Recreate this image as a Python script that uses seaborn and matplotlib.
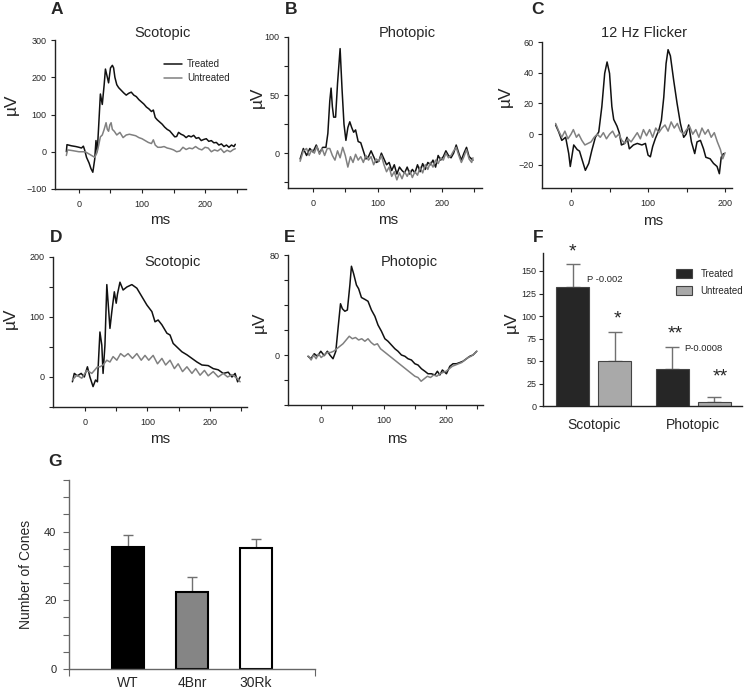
import numpy as np
import pandas as pd
import matplotlib
matplotlib.use('Agg')
import matplotlib.pyplot as plt
import seaborn as sns
from matplotlib.patches import Patch
from matplotlib.ticker import MultipleLocator

W, H = 745, 690

# ---- traces (ms, uV) ----
a_t_ms = [-20, -19, -12, -5, 0, 4, 7, 9, 12, 16, 19, 22, 25, 27, 29, 31, 34, 37, 40, 42, 45, 47, 50, 53, 55,
          57, 60, 63, 67, 71, 75, 79, 83, 87, 91, 95, 99, 103, 107, 111, 115, 118, 121, 124, 128, 132, 136,
          140, 144, 148, 152, 155, 158, 162, 166, 170, 174, 178, 182, 186, 190, 194, 198, 202, 206, 210, 214,
          218, 222, 226, 230, 234, 238, 242, 246, 248]
a_t_uv = [0, 19, 16, 14, 12, 10, 15, 5, -15, -30, -45, -55, -20, 30, 0, 60, 155, 127, 180, 222, 200, 185, 225,
          232, 225, 200, 180, 172, 165, 158, 152, 157, 160, 152, 148, 140, 134, 128, 120, 115, 108, 112, 92, 86,
          80, 74, 66, 60, 56, 48, 40, 41, 52, 47, 44, 38, 43, 40, 44, 36, 38, 30, 33, 35, 28, 30, 24, 25, 18, 21,
          14, 18, 12, 18, 14, 20]
a_u_ms = [-20, -18, -10, 0, 10, 15, 20, 25, 28, 31, 34, 37, 40, 43, 45, 47, 49, 51, 53, 56, 60, 65, 70, 75, 80,
          85, 90, 95, 100, 105, 110, 115, 118, 121, 125, 130, 135, 140, 145, 150, 155, 160, 165, 170, 175, 180,
          185, 190, 195, 200, 205, 210, 215, 220, 225, 230, 235, 240, 245, 248]
a_u_uv = [-10, 5, 3, 0, 0, -5, -10, -15, -5, 15, 40, 45, 60, 78, 60, 55, 72, 78, 60, 55, 45, 52, 38, 45, 47, 45,
          43, 38, 35, 30, 25, 22, 32, 18, 12, 12, 14, 10, 8, 5, 0, 2, 12, 6, 10, 8, 14, 8, 5, 12, 10, 0, 5, 2, 8,
          -2, 4, 0, 6, 8]

b_t_ms = [-20, -15, -10, -5, 0, 5, 10, 15, 20, 23, 26, 28, 30, 32, 35, 38, 42, 45, 48, 51, 54, 57, 60, 63, 66,
          70, 74, 78, 82, 86, 90, 94, 98, 102, 106, 110, 114, 118, 122, 126, 130, 134, 138, 142, 146, 150, 154,
          158, 162, 166, 170, 174, 178, 182, 186, 190, 194, 198, 202, 206, 210, 214, 218, 222, 226, 230, 234,
          238, 242, 246, 248]
b_t_uv = [-5, 4, -2, 4, 1, 7, 0, 5, 5, 17, 45, 56, 40, 31, 31, 60, 90, 55, 25, 11, 22, 27, 22, 18, 20, 10, 9, 2,
          -5, -3, 2, -3, -8, -7, 0, -5, -10, -8, -15, -10, -18, -12, -15, -17, -12, -18, -14, -17, -10, -16, -9,
          -14, -8, -10, -6, -12, -2, -6, -3, 2, -2, -4, 0, 7, 0, -6, 0, 5, -3, -5, -6]
b_u_ms = [-20, -15, -10, -6, -2, 2, 6, 10, 14, 18, 22, 26, 30, 34, 38, 42, 46, 50, 54, 58, 62, 66, 70, 74, 78,
          82, 86, 90, 94, 98, 102, 106, 110, 114, 118, 122, 126, 130, 134, 138, 142, 146, 150, 154, 158, 162,
          166, 170, 174, 178, 182, 186, 190, 194, 198, 202, 206, 210, 214, 218, 222, 226, 230, 234, 238, 242,
          246, 248]
b_u_uv = [-7, 2, 4, -2, 3, 0, 6, -1, 4, -2, 4, 4, -2, -6, 2, -4, 5, -2, -12, -3, -8, -1, -6, -3, -8, -2, -6, -3,
          -10, -5, -7, -2, -10, -16, -12, -20, -16, -23, -17, -22, -16, -20, -15, -21, -16, -19, -12, -17, -10,
          -14, -8, -12, -6, -9, -4, -6, 0, -4, -2, 2, 5, -2, -8, -3, 3, -5, -8, -4]

c_t_ms = [-20, -16, -12, -7, -3, -1, 3.5, 8, 11, 14, 18.6, 23, 27, 31.6, 36, 40, 43.7, 46.8, 50, 53, 55.4, 59.7,
          62.7, 65.4, 69.7, 72.7, 75.7, 81, 86, 92, 96.6, 100, 103, 106, 109.5, 114, 117.3, 120.4, 123.4, 126,
          129, 133.3, 137.7, 142, 146.3, 149.4, 152.8, 156.3, 160.6, 163.6, 168, 172, 175, 180.6, 185, 189.6,
          192.6, 195, 198]
c_t_uv = [6, 1.5, -4, -2, -12.6, -21, -7, -10, -11, -16, -23.5, -19, -10.5, -2, 1.5, 18, 39.6, 47, 39.6, 18, 9.6,
          5.2, 0.8, -7, -6, -2, -9.5, -7, -6, -7, -6, -13.6, -14.7, -8, -2.8, 2.6, 9, 24, 46, 55, 51, 35, 20, 7,
          -2, 0, 6, -5, -12.6, -5, -4, -9.5, -15, -16, -19, -21, -25.7, -15, -12.6]
c_u_ms = [-20, -16, -12, -8, -4, 0, 3, 7, 10, 14, 18, 22, 26, 30, 34, 38, 42, 46, 50, 54, 58, 62, 66, 70, 74, 78,
          82, 86, 90, 94, 98, 102, 106, 110, 114, 118, 122, 126, 130, 134, 138, 142, 146, 150, 154, 158, 162,
          166, 170, 174, 178, 182, 186, 190, 194, 197, 200]
c_u_uv = [7, 2, -2, 2, -3, 0, 3, -2, 0, -4, -7, -6, -5, -2, 0, -2, 1, -3, 0, 2, -2, 0, -4, -6, -3, -5, -2, 1, -3,
          3, -1, 3, -2, 4, 1, 4, 6, 2, 8, 4, 7, 2, 0, 3, 5, 0, 3, -2, 4, 0, 3, -2, 1, -5, -10, -16, -12]

d_t_ms = [-20, -17, -12, -6, -1, 4, 8, 13, 17, 20, 24, 27, 29, 32, 35, 37, 40, 43, 47, 50, 52, 56, 61, 67, 75,
          83, 91, 99, 107, 112, 117, 123, 131, 136, 141, 147, 155, 163, 171, 179, 187, 197, 205, 213, 221, 229,
          235, 240, 244, 248]
d_t_uv = [-8, 6, 2, 6, 0, 17, 0, -16, -5, -8, 75, 53, 6, 53, 154, 125, 81, 109, 142, 123, 138, 158, 145, 150,
          154, 148, 134, 120, 109, 92, 95, 87, 73, 70, 56, 50, 42, 37, 31, 25, 20, 19, 14, 12, 6, 8, 0, 6, -8, 0]
d_u_ms = [-20, -13, -5, 3, 11, 16, 20, 24, 29, 35, 40, 45, 51, 57, 63, 69, 76, 83, 90, 96, 102, 109, 116, 123,
          129, 136, 143, 149, 156, 163, 171, 177, 184, 191, 197, 205, 213, 221, 228, 235, 243, 248]
d_u_uv = [-5, 3, -2, 11, 6, 12, 17, 17, 20, 28, 25, 34, 28, 39, 34, 39, 31, 39, 28, 36, 28, 36, 22, 31, 20, 28,
          14, 22, 9, 17, 6, 14, 3, 11, 2, 9, 0, 6, 0, 4, -2, -8]

e_t_ms = [-21, -16.5, -11, -6, -0.5, 5, 10, 14, 19, 23.5, 27, 31, 34, 38, 42, 46, 48.5, 52, 56.5, 60, 64.5, 70,
          75, 80.5, 86, 91, 96.5, 102, 107, 112.5, 118, 123, 128.5, 134, 139, 144.5, 150, 155, 160.5, 166, 171,
          176.5, 182, 186, 190, 194, 200.5, 206, 211, 216.5, 222, 227, 232.5, 238, 243, 249]
e_t_uv = [-1, -3, 1, -1, 3, -0.5, 3, 0, -3, 3, 21, 41, 37, 35, 36, 56, 71, 65, 56, 53, 46, 44.5, 43, 36, 31, 24,
          19, 13, 11, 8, 5, 3, 0, -1, -3, -4, -7, -8, -11, -13, -15, -15, -16, -13, -16, -12, -15, -9, -7, -7,
          -6, -5, -3, -1, 0, 3]
e_u_ms = [-20, -16, -12, -8, -4, 0, 5, 10, 15, 20, 25, 30, 35, 40, 45, 50, 55, 60, 65, 70, 75, 80, 85, 90, 95,
          100, 105, 110, 115, 120, 125, 130, 135, 140, 145, 150, 155, 160, 165, 170, 175, 180, 185, 190, 195,
          200, 205, 210, 215, 220, 225, 230, 235, 240, 245, 249]
e_u_uv = [-1, -4, 0, -3, 1, -2, 0, 2, 2, 3, 5, 7, 9, 12, 15, 13, 14, 12, 13, 11, 13, 10, 8, 9, 5, 3, 1, -1, -3,
          -5, -7, -9, -11, -13, -15, -17, -18, -21, -19, -17, -18, -16, -17, -15, -14, -13, -11, -9, -8, -7, -6,
          -4, -2, -1, 1, 3]

# ---- bar panels ----
f_conditions = ['Scotopic', 'Photopic']
f_groups = ['Treated', 'Untreated']
f_treated_mean = [132, 41]
f_treated_err = [26, 25]
f_untreated_mean = [50, 5]
f_untreated_err = [32, 5]

g_genotypes = ['WT', '4Bnr', '30Rk']
g_mean = [35.5, 22.3, 35.2]
g_err = [3.5, 4.5, 2.7]

TRACE_COLORS = {'Treated': '#111111', 'Untreated': '#808080'}
F_COLORS = {'Treated': '#262626', 'Untreated': '#a9a9a9'}
G_COLORS = ['#000000', '#858585', '#ffffff']


def px_box(left, top, right, bottom):
    return [left / W, 1 - bottom / H, (right - left) / W, (bottom - top) / H]


def fig_text(fig, x, y, s, **kw):
    fig.text(x / W, 1 - y / H, s, ha='center', va='center', **kw)


def trace_frame(t_ms, t_uv, u_ms, u_uv):
    treated = pd.DataFrame({'ms': t_ms, 'uV': t_uv, 'group': 'Treated'})
    untreated = pd.DataFrame({'ms': u_ms, 'uV': u_uv, 'group': 'Untreated'})
    return pd.concat([treated, untreated], ignore_index=True)


def draw_trace(fig, box, df, xlim, ylim, yticks, yminor, xminor):
    ax = fig.add_axes(px_box(*box))
    sns.lineplot(data=df, x='ms', y='uV', hue='group', hue_order=f_groups, palette=TRACE_COLORS,
                 estimator=None, errorbar=None, sort=False, linewidth=1.1, legend=False, ax=ax)
    ax.set_xlim(*xlim)
    ax.set_ylim(*ylim)
    ax.set_xticks([0, 100, 200])
    ax.set_xticks(xminor, minor=True)
    ax.set_yticks(yticks)
    ax.set_yticks(yminor, minor=True)
    ax.set_xlabel('')
    ax.set_ylabel('')
    sns.despine(ax=ax)
    for sp in ['left', 'bottom']:
        ax.spines[sp].set_color('#222222')
        ax.spines[sp].set_linewidth(1.0)
    ax.tick_params(which='both', labelsize=6.5, length=3, width=0.8, color='#222222')
    ax.tick_params(axis='x', pad=5)
    ax.tick_params(axis='y', pad=3)
    return ax


def upper_errorbars(ax, xs, means, errs, capsize):
    # only the upper half shows; keep it under the bars so the lower cap is hidden
    ax.errorbar(xs, means, yerr=[np.zeros(len(errs)), errs], fmt='none', ecolor='#707070',
                elinewidth=1.0, capsize=capsize, capthick=1.0, zorder=0.5)


def main():
    sns.set_theme(style='ticks')
    plt.rcParams['font.family'] = ['Liberation Sans', 'DejaVu Sans']

    fig = plt.figure(figsize=(W / 100, H / 100), dpi=100)

    ax_a = draw_trace(fig, (55, 40, 246, 189), trace_frame(a_t_ms, a_t_uv, a_u_ms, a_u_uv),
                      (-38, 265), (-100, 300), [-100, 0, 100, 200, 300], [], [50, 150, 250])
    ax_a.legend(handles=[plt.Line2D([], [], color=TRACE_COLORS[g], lw=1.1) for g in f_groups],
                labels=f_groups, loc='upper left', bbox_to_anchor=(0.545, 0.905), frameon=False,
                fontsize=7, handlelength=1.9, handletextpad=0.5, borderpad=0, labelspacing=0.45)
    draw_trace(fig, (288, 37, 482, 188), trace_frame(b_t_ms, b_t_uv, b_u_ms, b_u_uv),
               (-38.8, 262), (-30, 100), [0, 50, 100], [-25, 25, 75], [50, 150, 250])
    draw_trace(fig, (542, 42, 732, 188), trace_frame(c_t_ms, c_t_uv, c_u_ms, c_u_uv),
               (-37.7, 209), (-35, 60), [-20, 0, 20, 40, 60], [], [50, 150])
    draw_trace(fig, (53, 257, 247, 407), trace_frame(d_t_ms, d_t_uv, d_u_ms, d_u_uv),
               (-51, 259), (-50, 200), [0, 100, 200], [-50, 50, 150], [50, 150, 250])
    draw_trace(fig, (288, 255, 483, 405), trace_frame(e_t_ms, e_t_uv, e_u_ms, e_u_uv),
               (-53, 259), (-40, 80), [0, 80], [-40, -20, 20, 40, 60], [50, 150, 250])

    # ---- panel F ----
    ax_f = fig.add_axes(px_box(543, 253, 742, 406))
    f_df = pd.DataFrame({
        'condition': f_conditions * 2,
        'group': ['Treated'] * 2 + ['Untreated'] * 2,
        'uV': f_treated_mean + f_untreated_mean,
    })
    sns.barplot(data=f_df, x='condition', y='uV', hue='group', hue_order=f_groups, order=f_conditions,
                palette=F_COLORS, width=0.84, gap=0.214, edgecolor='#444444', linewidth=0.8,
                errorbar=None, legend=False, ax=ax_f)
    for container, means, errs in zip(ax_f.containers, [f_treated_mean, f_untreated_mean],
                                      [f_treated_err, f_untreated_err]):
        xs = [b.get_x() + b.get_width() / 2 for b in container]
        upper_errorbars(ax_f, xs, means, errs, 5)
    ax_f.set_ylim(0, 170)
    ax_f.set_xlim(-0.51, 1.49)
    ax_f.set_yticks([0, 25, 50, 75, 100, 125, 150])
    ax_f.set_xlabel('')
    ax_f.set_ylabel('')
    sns.despine(ax=ax_f)
    for sp in ['left', 'bottom']:
        ax_f.spines[sp].set_color('#222222')
        ax_f.spines[sp].set_linewidth(1.0)
    ax_f.tick_params(axis='y', labelsize=6.5, length=3, width=0.8, color='#222222', pad=1.5)
    ax_f.tick_params(axis='x', labelsize=10, length=0, pad=9)
    ax_f.legend(handles=[Patch(facecolor=F_COLORS[g], edgecolor='#444444', lw=0.8) for g in f_groups],
                labels=f_groups, loc='upper left', bbox_to_anchor=(0.645, 0.93), frameon=False,
                fontsize=7, handlelength=1.6, handleheight=1.1, handletextpad=0.9, borderpad=0,
                labelspacing=0.75)
    ax_f.text(-0.21, 171, '*', ha='center', va='center', fontsize=14, clip_on=False)
    ax_f.text(-0.07, 141, 'P -0.002', ha='left', va='center', fontsize=6.8)
    ax_f.text(0.24, 97, '*', ha='center', va='center', fontsize=14)
    ax_f.text(0.82, 80, '**', ha='center', va='center', fontsize=14)
    ax_f.text(0.91, 64, 'P-0.0008', ha='left', va='center', fontsize=6.8)
    ax_f.text(1.27, 32, '**', ha='center', va='center', fontsize=14)

    # ---- panel G ----
    ax_g = fig.add_axes(px_box(69, 480, 315, 669))
    sns.barplot(x=g_genotypes, y=g_mean, hue=g_genotypes, palette=G_COLORS, legend=False, width=0.5,
                edgecolor='black', linewidth=1.5, ax=ax_g)
    bars = sorted(ax_g.patches, key=lambda p: p.get_x())
    xs = [b.get_x() + b.get_width() / 2 for b in bars]
    upper_errorbars(ax_g, xs, g_mean, g_err, 3.5)
    ax_g.set_ylim(0, 55)
    ax_g.set_xlim(-0.92, 2.92)
    ax_g.set_yticks([0, 20, 40])
    ax_g.yaxis.set_minor_locator(MultipleLocator(5))
    ax_g.set_xticks([-0.92, 2.92], minor=True)
    ax_g.set_ylabel('Number of Cones', fontsize=10)
    ax_g.yaxis.set_label_coords(-0.146, 0.5)
    sns.despine(ax=ax_g)
    for sp in ['left', 'bottom']:
        ax_g.spines[sp].set_color('#666666')
        ax_g.spines[sp].set_linewidth(1.0)
    ax_g.tick_params(axis='y', which='both', labelsize=8, length=4, width=0.8, color='#666666', pad=5)
    ax_g.tick_params(axis='x', which='major', labelsize=10, length=0, pad=5)
    ax_g.tick_params(axis='x', which='minor', length=5, width=0.8, color='#666666')

    # ---- panel texts ----
    for x, y, s in [(163, 33, 'Scotopic'), (407, 33, 'Photopic'), (644, 33, '12 Hz Flicker'),
                    (173, 262, 'Scotopic'), (409, 262, 'Photopic')]:
        fig_text(fig, x, y, s, fontsize=10.5)
    for x, y, s in [(57, 10, 'A'), (291, 10, 'B'), (537, 10, 'C'), (56, 237, 'D'), (290, 237, 'E'),
                    (538, 237, 'F'), (55, 462, 'G')]:
        fig_text(fig, x, y, s, fontsize=12.5, fontweight='bold')
    for x, y in [(160, 220), (388, 220), (653, 221), (160, 439), (397, 439)]:
        fig_text(fig, x, y, 'ms', fontsize=11)
    for x, y in [(11, 104), (257, 97), (505, 96), (10, 318), (259, 322), (511, 322)]:
        fig_text(fig, x, y, 'µV', fontsize=12.5, rotation=90)

    fig.savefig('out.png', dpi=100)


if __name__ == "__main__":
    main()
